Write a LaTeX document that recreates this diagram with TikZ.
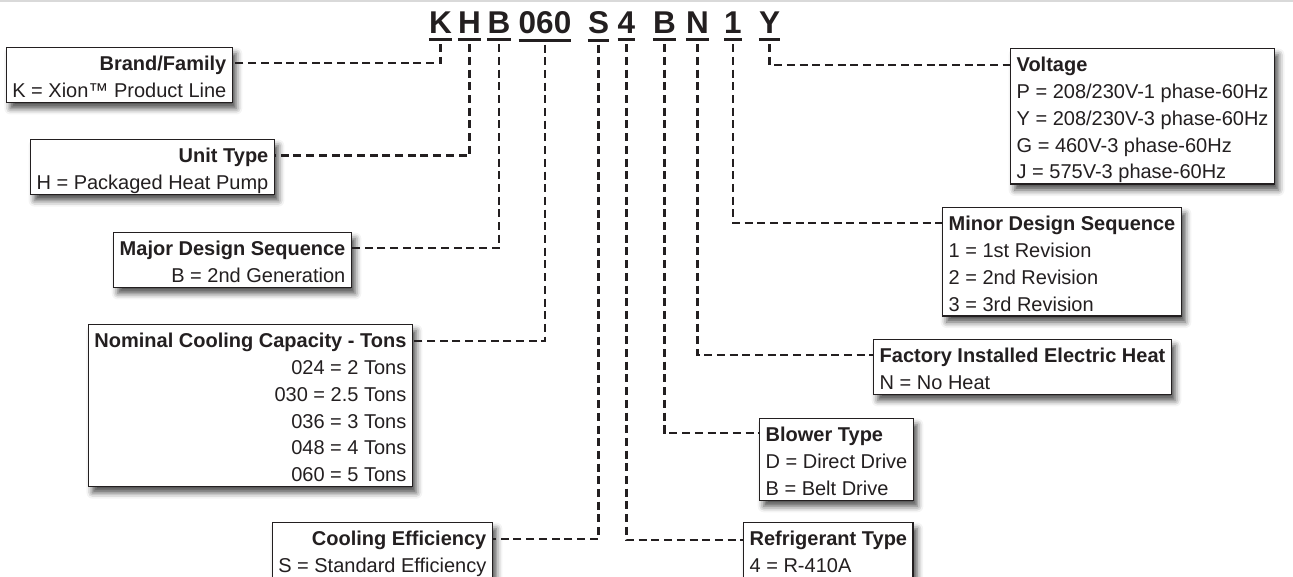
\documentclass[tikz,border=0pt]{standalone}
\usepackage{fontspec}
\setmainfont{Liberation Sans}
\usetikzlibrary{shadows.blur}
\definecolor{ink}{HTML}{231F20}
\newcommand{\boxhead}[1]{\rule{0pt}{22pt}\textbf{#1}}
\newcommand{\boxend}{\rule[-4pt]{0pt}{4pt}}
\tikzset{
  code/.style={anchor=base, inner sep=0pt, text=ink,
    font=\fontsize{31.5}{31.5}\selectfont\bfseries},
  uline/.style={line width=3pt, draw=ink},
  keybox/.style={draw=ink, line width=1.3pt, fill=white, text=ink,
    inner xsep=6pt, inner ysep=1pt, font=\fontsize{20}{26.8}\selectfont,
    blur shadow={shadow xshift=4pt, shadow yshift=-6pt,
      shadow blur radius=6pt, shadow opacity=70}},
  lbox/.style={keybox, anchor=north east, align=right},
  rbox/.style={keybox, anchor=north west, align=left},
  conn/.style={line width=2.4pt, draw=ink, dash pattern=on 8pt off 4.7pt},
}
\begin{document}
\begin{tikzpicture}[x=1pt, y=-1pt]
  \useasboundingbox (0,0) rectangle (1293,576);
  \draw[black!15, line width=1.5pt] (0,1) -- (1293,1);

  % model number
  \node[code] (cK)   at (440.5,33) {K};
  \node[code] (cH)   at (469.5,33) {H};
  \node[code] (cB)   at (499,33)   {B};
  \node[code] (c060) at (545,33)   {060};
  \node[code] (cS)   at (598.5,33) {S};
  \node[code] (c4)   at (626.5,33) {4};
  \node[code] (cBl)  at (664.5,33) {B};
  \node[code] (cN)   at (697.5,33) {N};
  \node[code] (c1)   at (733,33)   {1};
  \node[code] (cY)   at (769.5,33) {Y};
  \foreach \c in {cK,cH,cB,c060,cS,c4,cBl,cN,c1,cY}
    \draw[uline] ([yshift=-6.5pt]\c.south west) -- ([yshift=-6.5pt]\c.south east);

  % left side
  \node[lbox] (brand) at (233,47)
    {\boxhead{Brand/Family}\\ K = Xion™ Product Line\boxend};
  \node[lbox] (unit) at (275,139)
    {\boxhead{Unit Type}\\ H = Packaged Heat Pump\boxend};
  \node[lbox] (major) at (352,232)
    {\boxhead{Major Design Sequence}\\ B = 2nd Generation\boxend};
  \node[lbox] (tons) at (413,324)
    {\boxhead{Nominal Cooling Capacity - Tons}\\ 024 = 2 Tons\\ 030 = 2.5 Tons\\
     036 = 3 Tons\\ 048 = 4 Tons\\ 060 = 5 Tons\boxend};
  \node[lbox] (eff) at (493,522)
    {\boxhead{Cooling Efficiency}\\ S = Standard Efficiency\boxend};

  % right side
  \node[rbox] (volt) at (1010,48)
    {\boxhead{Voltage}\\ P = 208/230V-1 phase-60Hz\\ Y = 208/230V-3 phase-60Hz\\
     G = 460V-3 phase-60Hz\\ J = 575V-3 phase-60Hz\boxend};
  \node[rbox] (minor) at (942,207)
    {\boxhead{Minor Design Sequence}\\ 1 = 1st Revision\\ 2 = 2nd Revision\\
     3 = 3rd Revision\boxend};
  \node[rbox] (heat) at (873,339)
    {\boxhead{Factory Installed Electric Heat}\\ N = No Heat\boxend};
  \node[rbox] (blower) at (759,418)
    {\boxhead{Blower Type}\\ D = Direct Drive\\ B = Belt Drive\boxend};
  \node[rbox] (refr) at (743,522)
    {\boxhead{Refrigerant Type}\\ 4 = R-410A\boxend};

  % leaders
  \draw[conn] ([yshift=-11pt]cK.south)   |- ([yshift=-16pt]brand.north east);
  \draw[conn] ([yshift=-11pt]cH.south)   |- ([yshift=-16.5pt]unit.north east);
  \draw[conn] ([yshift=-11pt]cB.south)   |- ([yshift=-16pt]major.north east);
  \draw[conn] ([yshift=-11pt]c060.south) |- ([yshift=-17pt]tons.north east);
  \draw[conn] ([yshift=-11pt]cS.south)   |- ([yshift=-17pt]eff.north east);
  \draw[conn] ([yshift=-11pt]c4.south)   |- ([yshift=-18pt]refr.north west);
  \draw[conn] ([yshift=-11pt]cBl.south)  |- ([yshift=-15pt]blower.north west);
  \draw[conn] ([yshift=-11pt]cN.south)   |- ([yshift=-16pt]heat.north west);
  \draw[conn] ([yshift=-11pt]c1.south)   |- ([yshift=-16pt]minor.north west);
  \draw[conn] ([yshift=-11pt]cY.south)   |- ([yshift=-17pt]volt.north west);
\end{tikzpicture}
\end{document}
